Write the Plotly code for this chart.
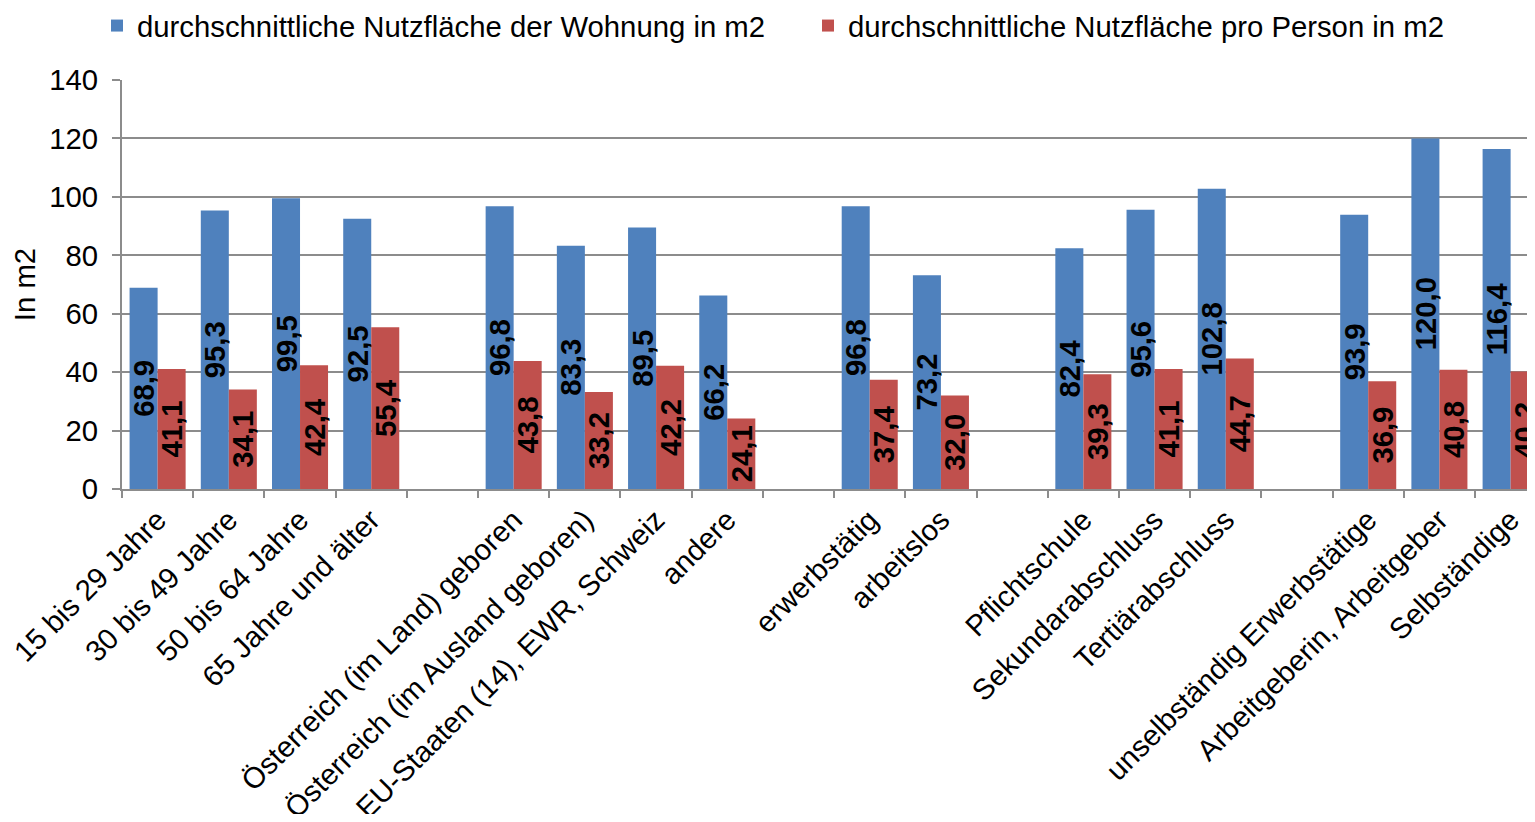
import plotly.graph_objects as go

# -- Data --------------------------------------------------------------------

# empty strings of different length keep the gaps between the groups
categories = [
    "15 bis 29 Jahre", "30 bis 49 Jahre", "50 bis 64 Jahre", "65 Jahre und älter",
    " ",
    "Österreich (im Land) geboren", "Österreich (im Ausland geboren)",
    "EU-Staaten (14), EWR, Schweiz", "andere",
    "  ",
    "erwerbstätig", "arbeitslos",
    "   ",
    "Pflichtschule", "Sekundarabschluss", "Tertiärabschluss",
    "    ",
    "unselbständig Erwerbstätige", "Arbeitgeberin, Arbeitgeber", "Selbständige",
]

flaeche_wohnung = [68.9, 95.3, 99.5, 92.5, None,
                   96.8, 83.3, 89.5, 66.2, None,
                   96.8, 73.2, None,
                   82.4, 95.6, 102.8, None,
                   93.9, 120.0, 116.4]

flaeche_person = [41.1, 34.1, 42.4, 55.4, None,
                  43.8, 33.2, 42.2, 24.1, None,
                  37.4, 32.0, None,
                  39.3, 41.1, 44.7, None,
                  36.9, 40.8, 40.2]

series_names = ["durchschnittliche Nutzfläche der Wohnung in m2",
                "durchschnittliche Nutzfläche pro Person in m2"]


def de_label(v):
    return "" if v is None else f"{v:.1f}".replace(".", ",")


# -- Figure ------------------------------------------------------------------

FONT = "Liberation Sans, Arial, sans-serif"
GRID = "#8c8c8c"
SIZE = 29.3

fig = go.Figure()
for name, vals, color in [(series_names[0], flaeche_wohnung, "#4F81BD"),
                          (series_names[1], flaeche_person, "#C0504D")]:
    fig.add_trace(go.Bar(
        x=categories, y=vals, name=name,
        marker=dict(color=color, line=dict(width=0)),
        text=[de_label(v) for v in vals],
        textposition="inside", insidetextanchor="middle",
        textangle=-90, constraintext="none",
        textfont=dict(family=FONT, size=SIZE, color="black", weight="bold"),
    ))

# the page body adds an 8px margin, so the figure is 16px smaller than the window
fig.update_layout(
    width=1519, height=806,
    margin=dict(l=114, r=0, t=72, b=325, autoexpand=False),
    barmode="group", bargap=0.213, bargroupgap=0,
    plot_bgcolor="white", paper_bgcolor="white",
    font=dict(family=FONT, size=SIZE, color="black"),
    legend=dict(
        orientation="h", x=-0.0178, xanchor="left", y=1.132, yanchor="middle",
        font=dict(size=SIZE), entrywidth=666, entrywidthmode="pixels",
        itemclick=False,
    ),
    showlegend=True,
)

fig.update_xaxes(
    type="category", range=[-0.5, 19.23], automargin=False,
    tickangle=-45, tickson="boundaries",
    ticks="outside", ticklen=7, tickcolor=GRID, tickwidth=2,
    showline=True, linecolor=GRID, linewidth=2,
    showgrid=False, tickfont=dict(size=SIZE),
)
fig.update_yaxes(
    range=[0, 140], dtick=20, automargin=False,
    ticks="outside", ticklen=8, tickcolor=GRID, tickwidth=2,
    ticklabelstandoff=8,
    showline=True, linecolor=GRID, linewidth=2,
    showgrid=True, gridcolor=GRID, gridwidth=2, zeroline=False,
    title=dict(text="In m2", font=dict(size=SIZE), standoff=6),
    tickfont=dict(size=SIZE),
)

fig.write_html("out.html")
